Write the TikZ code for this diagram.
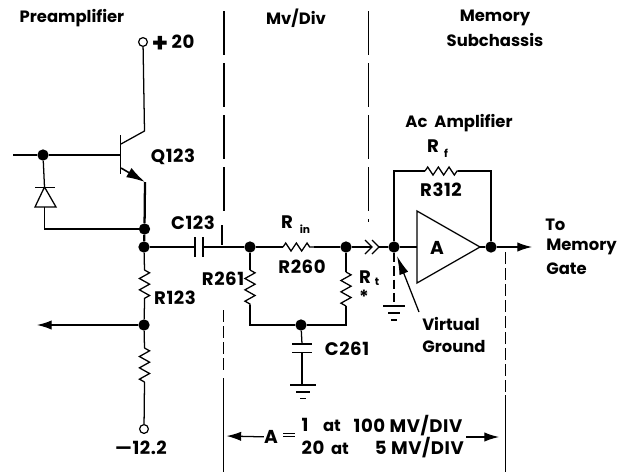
\documentclass[tikz,border=0pt]{standalone}
\usepackage{fontspec}
\setmainfont{Poppins}[BoldFont=Poppins Bold]
\newfontfamily\digfont{Poppins}[BoldFont=Poppins Bold,LetterSpace=3]
\usetikzlibrary{decorations.pathmorphing,arrows.meta}
\tikzset{
  wire/.style={line width=0.95pt},
  thick wire/.style={line width=1.7pt},
  dot/.style={circle,fill=black,inner sep=0pt,minimum size=8.5pt},
  term/.style={circle,draw,line width=0.9pt,fill=white,inner sep=0pt,minimum size=6.6pt},
  res/.style={wire,decorate,decoration={zigzag,segment length=8.5pt,amplitude=3.8pt}},
  hres/.style={wire,decorate,decoration={zigzag,segment length=8pt,amplitude=3pt}},
  div/.style={line width=0.85pt,dash pattern=on 33pt off 6pt},
  divs/.style={line width=0.85pt,dash pattern=on 9pt off 3pt},
  arr/.style={wire,-{Latex[length=11pt,width=7pt]}},
  lab/.style={font=\bfseries\fontsize{12.3}{14}\selectfont,inner sep=0pt},
  dig/.style={font=\digfont\bfseries\fontsize{13.6}{15}\selectfont,inner sep=0pt},
  sub/.style={font=\bfseries\fontsize{8}{9}\selectfont,inner sep=0pt},
}
\begin{document}
\begin{tikzpicture}[x=0.75pt,y=-0.75pt]
\useasboundingbox (0,0) rectangle (623,472);
% dividers
\coordinate (d1a) at (224,11); \coordinate (d1b) at (223.5,372); \coordinate (d1c) at (223.5,378); \coordinate (d1d) at (223.5,472);
\draw[div] (d1a) -- (224,214);
\draw[line width=0.85pt] (222,225) -- (222,245);
\draw[divs] (223.5,310) -- (d1b);
\draw[line width=0.85pt] (d1c) -- (d1d);
\draw[div] (368.5,11) -- (368.5,222);
\draw[divs] (505.5,252) -- (505.5,392);
\draw[line width=0.85pt] (505.5,395) -- (505.5,472);
% transistor
\node[term] (vcc) at (143,42) {};
\coordinate (col) at (144.5,131);
\coordinate (bc) at (121,144);
\coordinate (be) at (121,168);
\coordinate (em) at (145,182);
\coordinate (bl) at (120,155);
\coordinate (in) at (13,155);
\node[dot] (nb) at (43,155) {};
\node[dot] (ne) at (144.5,229) {};
\node[dot] (nj) at (144,247) {};
\draw[wire] (vcc) -- (col) -- (bc);
\draw[line width=1.2pt] (120.5,135) -- (120.5,174);
\draw[wire] (in) -- (nb) -- (bl);
\draw[line width=1.2pt,-{Latex[length=14pt,width=8pt]}] (be) -- (em);
\draw[thick wire] (em) -- (ne) -- (nj);
% diode
\coordinate (da) at (44.5,187);
\coordinate (dl) at (35,207);
\coordinate (dr) at (56,207);
\draw[wire] (nb) -- (da);
\draw[wire] (35,187.5) -- (55,187.5);
\draw[wire] (da) -- (dl) -- (dr) -- cycle;
\draw[wire] (44.5,207) |- (ne);
% coupling cap
\coordinate (c1) at (195,247); \coordinate (c2) at (203,247);
\node[dot] (n1) at (250,247) {};
\draw[wire] (nj) -- (c1);
\draw[line width=1.2pt] (195,237) -- (195,257);
\draw[line width=1.2pt] (203,237) -- (203,257);
\draw[wire] (c2) -- (n1);
% R260
\coordinate (r1a) at (283,247); \coordinate (r1b) at (314,247);
\node[dot] (n2) at (346,247) {};
\draw[wire] (n1) -- (r1a);
\draw[hres] (r1a) -- (r1b);
\draw[wire] (r1b) -- (n2);
% chevrons and input of amp
\coordinate (ch) at (372,247);
\node[dot] (n3) at (394,247) {};
\draw[wire] (n2) -- (ch);
\draw[wire] (365,240) -- (372,247) -- (365,254);
\draw[wire] (372,240) -- (379,247) -- (372,254);
\draw[wire] (379,247) -- (n3);
% amplifier
\coordinate (ap) at (417,247);
\coordinate (at) at (417,211);
\coordinate (ab) at (417,283);
\coordinate (ao) at (480,247);
\node[dot] (n4) at (491,247) {};
\coordinate (oe) at (532,247);
\draw[wire] (n3) -- (ap);
\draw[wire] (at) -- (ao) -- (ab) -- cycle;
\draw[wire] (ao) -- (n4);
\draw[arr] (n4) -- (oe);
\node[lab,font=\bfseries\fontsize{14}{15}\selectfont] (atxt) at (437,248) {A};
% feedback
\coordinate (fl) at (394,171); \coordinate (fr) at (491,171);
\coordinate (r2a) at (425,171); \coordinate (r2b) at (458,171);
\draw[wire] (n3) -- (fl) -- (r2a);
\draw[hres] (r2a) -- (r2b);
\draw[wire] (r2b) -- (fr) -- (n4);
% R261 and Rt
\coordinate (r3a) at (250,270); \coordinate (r3b) at (250,305);
\coordinate (r4a) at (346,272); \coordinate (r4b) at (346,306);
\coordinate (bl2) at (250,325); \coordinate (br2) at (346,325);
\node[dot] (n5) at (301,325) {};
\draw[wire] (n1) -- (r3a);
\draw[res] (r3a) -- (r3b);
\draw[wire] (r3b) -- (bl2) -- (n5) -- (br2) -- (r4b);
\draw[res] (r4a) -- (r4b);
\draw[wire] (n2) -- (r4a);
% C261
\coordinate (c3) at (302,344); \coordinate (c4) at (302,352.5); \coordinate (g1) at (302,385);
\draw[wire] (n5) -- (c3);
\draw[line width=1.2pt] (292,344) -- (312,344);
\draw[wire] (292,352.5) -- (312,352.5);
\draw[wire] (c4) -- (g1);
\draw[wire] (290,385) -- (316,385);
\draw[wire] (296,392) -- (310,392);
\draw[wire] (300,398.5) -- (306,398.5);
% virtual ground
\coordinate (g2) at (394,306);
\draw[wire,dash pattern=on 7pt off 3pt] (n3) -- (g2);
\draw[wire] (383,306) -- (405,306);
\draw[wire] (388,313) -- (400,313);
\draw[wire] (391,320) -- (397,320);
\node[lab] (vg1) at (451,324) {Virtual};
\node[lab] (vg2) at (454,346) {Ground};
\coordinate (vgs) at (419,312); \coordinate (vge) at (397,256);
\draw[wire,-{Latex[length=14pt,width=7pt]}] (vgs) -- (vge);
% R123 chain
\coordinate (r5a) at (144.5,270); \coordinate (r5b) at (144.5,303);
\node[dot] (n6) at (144,325) {};
\coordinate (outl) at (37,325);
\coordinate (r6a) at (144.5,348); \coordinate (r6b) at (144.5,382);
\node[term] (vee) at (144,429) {};
\draw[wire] (nj) -- (r5a);
\draw[res] (r5a) -- (r5b);
\draw[wire] (r5b) -- (n6) -- (r6a);
\draw[res] (r6a) -- (r6b);
\draw[wire] (r6b) -- (vee);
\draw[arr] (n6) -- (outl);
% gain arrows
\node[lab,font=\bfseries\fontsize{14}{15}\selectfont] (gA) at (271,437) {A};
\coordinate (gl) at (226.5,436);
\coordinate (gr) at (499,437);
\coordinate (gm) at (466,437);
\draw[arr] (gA) -- (gl);
\draw[arr] (gm) -- (gr);
\draw[line width=0.5pt] (283,433) -- (295,433) (283,436) -- (295,436);
% texts
\node[lab] (t1) at (72,18) {Preamplifier};
\node[lab] (t2) at (296,18) {Mv/Div};
\node[lab] (t3) at (495,18) {Memory};
\node[lab] (t4) at (495,40) {Subchassis};
\node[lab] (t5) at (459,123) {Ac\ \ Amplifier};
\node[dig] (t6) at (433,146) {R};
\node[sub] (t7) at (446,153) {f};
\node[dig] (t8) at (441,190) {R312};
\node[lab,anchor=west] (t9) at (545,225) {To};
\node[lab,anchor=west] (t10) at (546,247) {Memory};
\node[lab,anchor=west] (t11) at (546,269) {Gate};
\node[dig] (t12) at (173,157) {Q123};
\node[lab,font=\bfseries\fontsize{20}{20}\selectfont] (t13) at (160,44) {+};
\node[dig] (t14) at (183,42) {20};
\node[dig] (t15) at (193,223) {C123};
\node[dig] (t16) at (287,222) {R};
\node[sub] (t17) at (305,229) {in};
\node[dig] (t18) at (302,267) {R260};
\node[dig] (t19) at (223,279) {R261};
\node[dig] (t20) at (175,298) {R123};
\node[dig] (t21) at (365,277) {R};
\node[sub] (t22) at (377,282) {t};
\node[dig] (t23) at (364,297) {*};
\node[dig] (t24) at (347,349) {C261};
\node[dig] (t25) at (141,448) {—12.2};
\node[dig] (t26) at (305,425) {1};
\node[dig] (t27) at (313,448) {20};
\node[lab] (t28) at (332,426) {at};
\node[lab] (t29) at (340,449) {at};
\node[dig] (t30) at (408,426) {100 MV/DIV};
\node[dig,anchor=east] (t31) at (464,448) {5 MV/DIV};
\end{tikzpicture}
\end{document}
